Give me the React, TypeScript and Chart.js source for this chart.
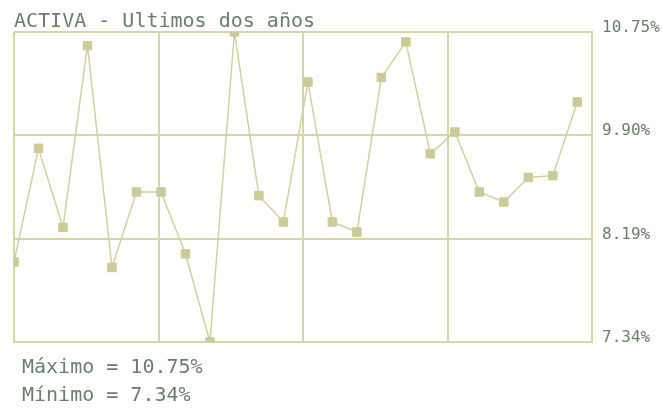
import React, { useEffect, useRef } from "react";
import { Chart, registerables } from "chart.js";

Chart.register(...registerables);

const TITLE = "ACTIVA - Ultimos dos años";
const MONTHS: number[] = [0, 1, 2, 3, 4, 5, 6, 7, 8, 9, 10, 11, 12, 13, 14, 15, 16, 17, 18, 19, 20, 21, 22, 23];
const RATES: number[] = [
  8.22, 9.47, 8.6, 10.6, 8.16, 8.99, 8.99, 8.31, 7.34, 10.75, 8.95, 8.66,
  10.2, 8.66, 8.55, 10.25, 10.64, 9.41, 9.65, 8.99, 8.88, 9.15, 9.17, 9.98,
];
const X_MAX = 23.6;
const Y_MIN = 7.34;
const Y_MAX = 10.75;
const TICK_LABELS: string[] = ["7.34%", "8.19%", "9.90%", "10.75%"];

const GRID = "#d8d5a6";
const LINE = "#d3d0a0";
const POINT = "#cdca98";
const TEXT = "#6a806b";

export default function App() {
  const ref = useRef<HTMLCanvasElement | null>(null);

  useEffect(() => {
    if (!ref.current) return;
    const maxV = Math.max(...RATES);
    const minV = Math.min(...RATES);
    const textPlugin = {
      id: "texts",
      afterDraw(chart: any) {
        const ctx = chart.ctx;
        ctx.save();
        ctx.fillStyle = TEXT;
        ctx.textAlign = "left";
        ctx.textBaseline = "alphabetic";
        ctx.font = "20px 'DejaVu Sans Mono'";
        ctx.fillText(TITLE, 14, 27);
        ctx.fillText(`Máximo = ${maxV.toFixed(2)}%`, 22, 373);
        ctx.fillText(`Mínimo = ${minV.toFixed(2)}%`, 22, 401);
        ctx.restore();
      },
    };
    const chart = new Chart(ref.current, {
      type: "line",
      data: {
        datasets: [
          {
            data: MONTHS.map((m, i) => ({ x: m, y: RATES[i] })),
            borderColor: LINE,
            borderWidth: 1.5,
            pointStyle: "rect",
            pointRadius: 6,
            pointBorderWidth: 1,
            pointBackgroundColor: POINT,
            pointBorderColor: POINT,
            tension: 0,
          },
        ],
      },
      options: {
        responsive: false,
        animation: false,
        layout: { padding: { left: 14, top: 32, bottom: 66, right: 0 } },
        plugins: { legend: { display: false }, tooltip: { enabled: false }, title: { display: false } },
        scales: {
          x: {
            type: "linear",
            min: 0,
            max: X_MAX,
            afterBuildTicks: (s: any) => {
              s.ticks = [0, 1, 2, 3, 4].map((i) => ({ value: (i * X_MAX) / 4 }));
            },
            ticks: { display: false },
            grid: { color: GRID, lineWidth: 2, drawTicks: false },
            border: { display: true, color: GRID, width: 2 },
            afterFit: (s: any) => {
              s.height = 0;
            },
          },
          y: {
            position: "right",
            min: Y_MIN,
            max: Y_MAX,
            afterBuildTicks: (s: any) => {
              s.ticks = [0, 1, 2, 3].map((i) => ({ value: Y_MIN + (i * (Y_MAX - Y_MIN)) / 3 }));
            },
            ticks: {
              color: TEXT,
              padding: 10,
              labelOffset: -4,
              font: { family: "'DejaVu Sans Mono'", size: 16 },
              callback: (_v: any, i: number) => TICK_LABELS[i],
            },
            grid: { color: GRID, lineWidth: 2, drawTicks: false },
            border: { display: true, color: GRID, width: 2 },
            afterFit: (s: any) => {
              s.width = 71;
            },
          },
        },
      },
      plugins: [textPlugin],
    });
    return () => chart.destroy();
  }, []);

  return (
    <div style={{ position: "fixed", left: 0, top: 0, width: 663, height: 408, background: "#fff" }}>
      <canvas ref={ref} width={663} height={408} style={{ width: 663, height: 408, display: "block" }} />
    </div>
  );
}
